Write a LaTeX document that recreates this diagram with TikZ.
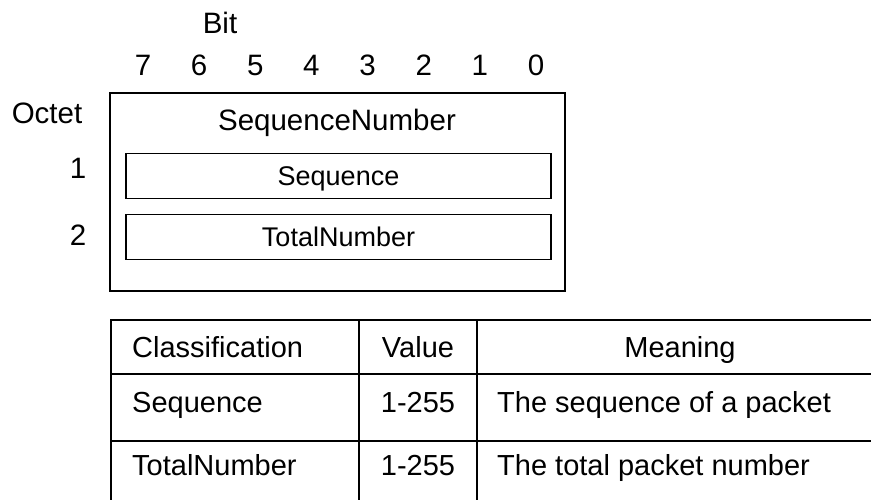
\documentclass[tikz,border=0pt]{standalone}
\usepackage{fontspec}
\setmainfont{Liberation Sans}
\usetikzlibrary{positioning}

\begin{document}
\begin{tikzpicture}[x=1pt,y=-1pt,every node/.style={inner sep=0pt,text height=20pt,text depth=0pt,font=\fontsize{29.5}{33}\selectfont}]
	\tikzset{field/.style={draw,line width=1.6pt,minimum width=425pt,minimum height=45pt,text height=18pt,font=\fontsize{27}{31}\selectfont}}
	\tikzset{cell/.style={font=\fontsize{29}{33}\selectfont}}
	\tikzset{grid/.style={line width=2.6pt}}
	\useasboundingbox (0,0) rectangle (871,499);
	\clip (0,0) rectangle (871,499);
	% bit header
	\node (bit) at (220,23) {Bit};
	\foreach \b [count=\i] in {7,6,...,0}
		\node (b\b) at (143+56.14*\i-56.14,65) {\b};
	% octet frame
	\node[draw,line width=1.6pt,minimum width=455pt,minimum height=198pt] (frame) at (337.5,192) {};
	\node (title) at (337,120) {SequenceNumber};
	\node[field] (seqbox) at (338.5,176) {Sequence};
	\node[field] (totbox) at (338.5,237) {TotalNumber};
	\node (octet) at (47,113) {Octet};
	\node (o1) at (78,168) {1};
	\node (o2) at (78,235) {2};
	% value table
	\draw[grid] (111,510) |- (880,320);
	\draw[grid] (111,374) -- (880,374);
	\draw[grid] (111,441) -- (880,441);
	\draw[grid] (359,320) -- (359,510);
	\draw[grid] (477,320) -- (477,510);
	\node[cell,anchor=west] (cls) at (132,347) {Classification};
	\node[cell] (val) at (418,347) {Value};
	\node[cell] (mng) at (680,347) {Meaning};
	\node[cell,anchor=west] (seq) at (132,402) {Sequence};
	\node[cell] (seqv) at (418,402) {1-255};
	\node[cell,anchor=west] (seqm) at (497,402) {The sequence of a packet};
	\node[cell,anchor=west] (tot) at (132,465) {TotalNumber};
	\node[cell] (totv) at (418,465) {1-255};
	\node[cell,anchor=west] (totm) at (497,465) {The total packet number};
\end{tikzpicture}
\end{document}
